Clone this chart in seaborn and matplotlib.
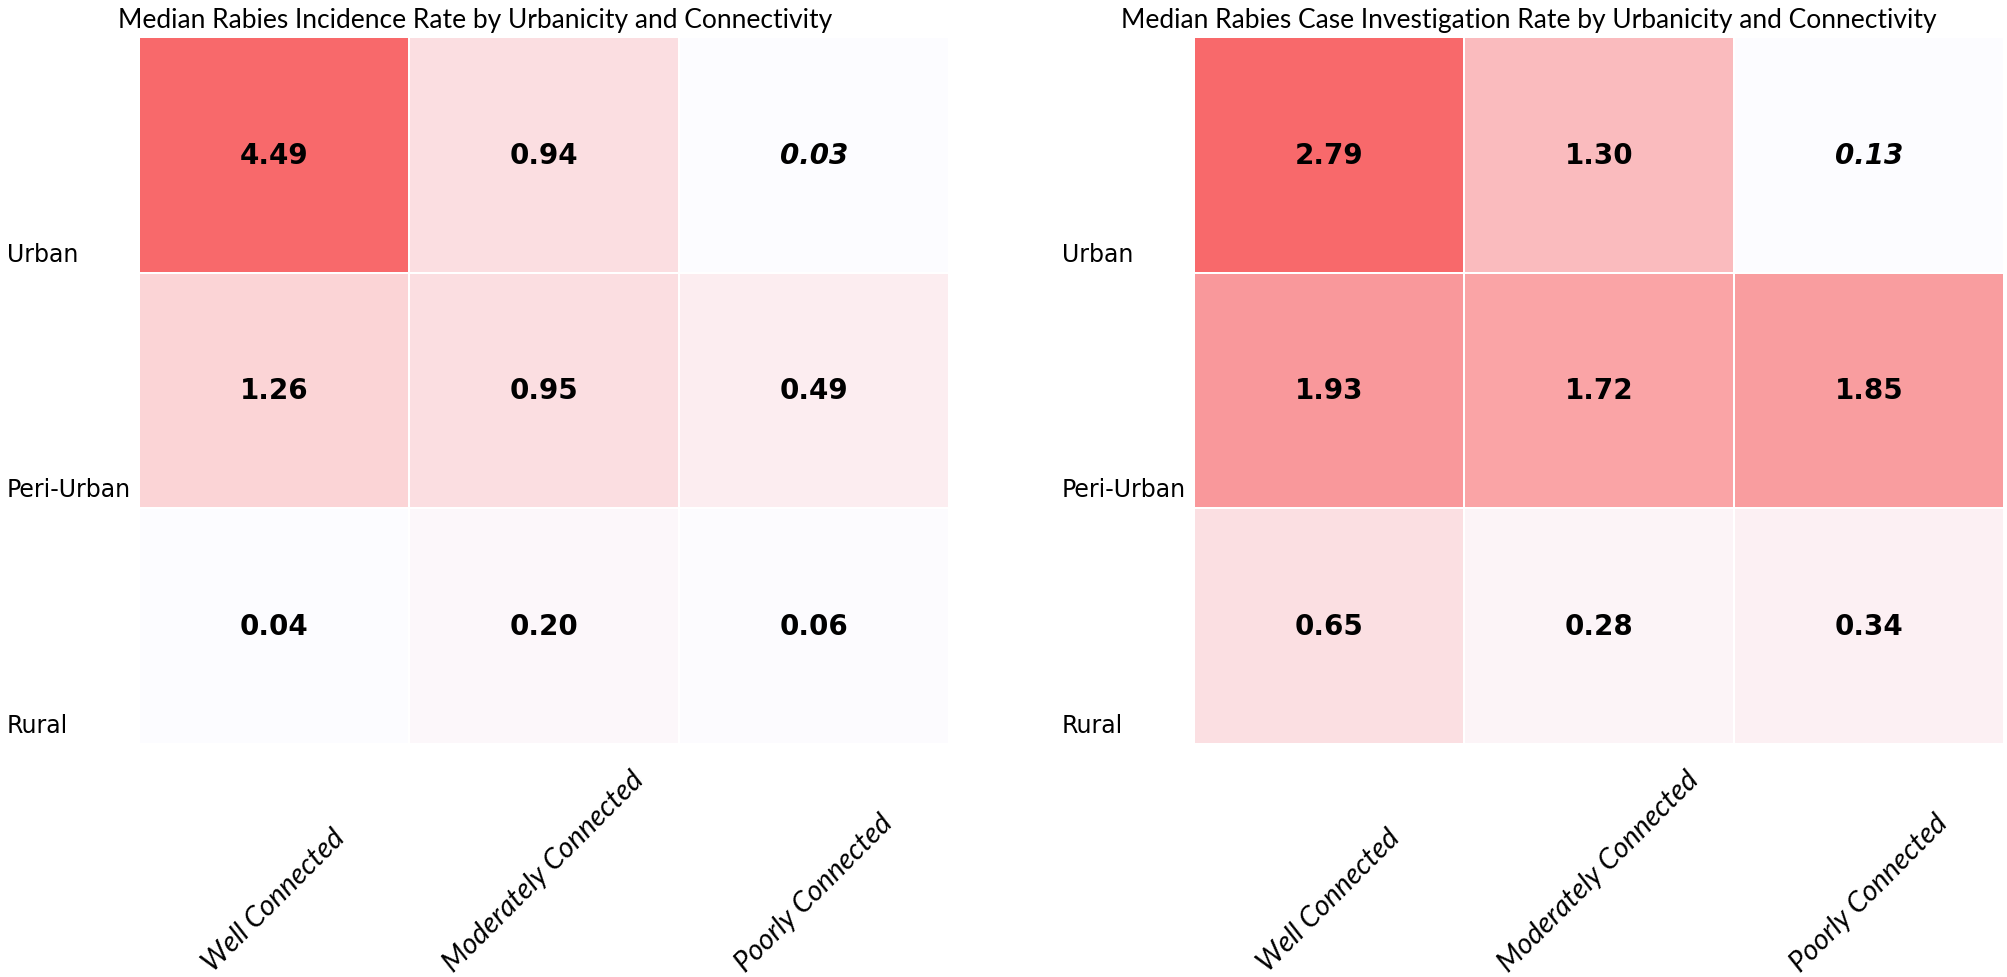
import numpy as np
import pandas as pd
import seaborn as sns
import matplotlib

matplotlib.use("Agg")
import matplotlib.pyplot as plt
from matplotlib.colors import LinearSegmentedColormap

urbanicity = ["Urban", "Peri-Urban", "Rural"]
connectivity = ["Well Connected", "Moderately Connected", "Poorly Connected"]

incidence_rate = [
    [4.49, 0.94, 0.03],
    [1.26, 0.95, 0.49],
    [0.04, 0.20, 0.06],
]
investigation_rate = [
    [2.79, 1.30, 0.13],
    [1.93, 1.72, 1.85],
    [0.65, 0.28, 0.34],
]

titles = [
    "Median Rabies Incidence Rate by Urbanicity and Connectivity",
    "Median Rabies Case Investigation Rate by Urbanicity and Connectivity",
]

# excel style white -> red colour scale
cmap = LinearSegmentedColormap.from_list("white_red", ["#FCFCFF", "#F8696B"])


def draw_heatmap(ax, values, title, title_x):
    df = pd.DataFrame(values, index=urbanicity, columns=connectivity)
    sns.heatmap(
        df,
        ax=ax,
        cmap=cmap,
        annot=True,
        fmt=".2f",
        cbar=False,
        linewidths=1.2,
        linecolor="white",
        annot_kws={
            "color": "black",
            "fontsize": 20,
            "fontweight": "bold",
            "family": "DejaVu Sans",
        },
    )
    # smallest value is shown in italics
    lowest = df.values.min()
    for t in ax.texts:
        if float(t.get_text()) == lowest:
            t.set_fontstyle("italic")

    ax.set_title(title, x=title_x, ha="left", fontsize=19, family="Lato", pad=7)
    ax.set_xlabel("")
    ax.set_ylabel("")

    # row labels sit at the bottom of each row
    ax.set_yticks(np.arange(1, len(urbanicity) + 1) - 0.03)
    ax.set_yticklabels(
        urbanicity, rotation=0, ha="left", va="bottom", fontsize=17,
        family="DejaVu Sans",
    )
    ax.set_xticklabels(
        connectivity, rotation=45, ha="center", va="bottom", fontsize=20.5,
        family="Lato", style="italic",
    )
    ax.tick_params(axis="y", length=0, pad=95)
    ax.tick_params(axis="x", length=0, pad=167)


fig = plt.figure(figsize=(20.08, 9.78), dpi=100)
ax1 = fig.add_axes([139 / 2008, 1 - 745 / 978, 810 / 2008, 707 / 978])
ax2 = fig.add_axes([1194 / 2008, 1 - 745 / 978, 810 / 2008, 707 / 978])

draw_heatmap(ax1, incidence_rate, titles[0], -0.026)
draw_heatmap(ax2, investigation_rate, titles[1], -0.09)

fig.savefig("out.png", dpi=100)
plt.close(fig)
